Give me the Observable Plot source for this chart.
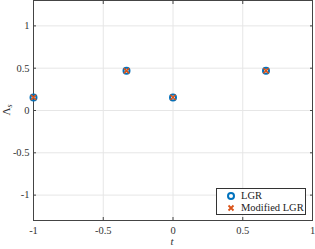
<!DOCTYPE html>
<html><head><meta charset="utf-8">
<script src="https://cdn.jsdelivr.net/npm/d3@7"></script>
<script src="https://cdn.jsdelivr.net/npm/@observablehq/plot@0.6"></script>
<style>
body{margin:0;background:#fff;}
#wrap{position:relative;width:315px;height:249px;font-family:"Liberation Serif","DejaVu Serif",serif;}
#legend{position:absolute;left:216px;top:188px;width:88px;height:25px;border:1px solid #333;background:#fff;font-size:10.5px;color:#222;}
#legend .row{position:absolute;left:0;height:12px;line-height:12px;white-space:nowrap;}
#legend svg{position:absolute;left:9px;top:2px;}
#legend span{position:absolute;left:24px;}
</style></head><body>
<div id="wrap"></div>
<script>
const tNodes = [-1, -1/3, 0, 2/3];
const lgr = [0.155, 0.47, 0.155, 0.47];
const modLgr = [0.155, 0.47, 0.155, 0.47];
const xTicks = [-1, -0.5, 0, 0.5, 1];
const yTicks = [-1, -0.5, 0, 0.5, 1];
const xLabels = ["-1", "-0.5", "0", "0.5", "1"];
const yLabels = ["-1", "-0.5", "0", "0.5", "1"];

const dLgr = tNodes.map((t, i) => ({t, v: lgr[i]}));
const dMod = tNodes.map((t, i) => ({t, v: modLgr[i]}));
const fmtX = d => xLabels[xTicks.indexOf(d)];
const fmtY = d => yLabels[yTicks.indexOf(d)];
const FF = "Liberation Serif";

const chart = Plot.plot({
  width: 315, height: 249,
  marginLeft: 33, marginRight: 3, marginTop: 0, marginBottom: 29,
  style: {fontSize: "10.5px", fontFamily: FF, color: "#333", background: "#fff"},
  x: {domain: [-1, 1]},
  y: {domain: [-1.3, 1.3]},
  marks: [
    Plot.gridX(xTicks, {stroke: "#e6e6e6", strokeOpacity: 1}),
    Plot.gridY(yTicks, {stroke: "#e6e6e6", strokeOpacity: 1}),
    Plot.axisX(xTicks, {anchor: "bottom", tickSize: -3, tickPadding: 9, tickFormat: fmtX, stroke: "#444", label: null, fontFamily: FF, fontVariant: "normal"}),
    Plot.axisX(xTicks, {anchor: "top", tickSize: -3, text: null, stroke: "#444", label: null}),
    Plot.axisY(yTicks, {anchor: "left", tickSize: -3, tickPadding: 7, tickFormat: fmtY, stroke: "#444", label: null, fontFamily: FF, fontVariant: "normal"}),
    Plot.axisY(yTicks, {anchor: "right", tickSize: -3, text: null, stroke: "#444", label: null}),
    Plot.frame({stroke: "#444", strokeWidth: 1}),
    Plot.dot(dLgr, {x: "t", y: "v", r: 3, stroke: "#0072BD", strokeWidth: 2, fill: "none"}),
    Plot.dot(dMod, {x: "t", y: "v", r: 2.5, symbol: "times", stroke: "#D95319", strokeWidth: 1.5})
  ]
});
const wrap = document.getElementById("wrap");
wrap.appendChild(chart);

const sel = d3.select(chart);
sel.append("text").attr("x", 172).attr("y", 245).attr("text-anchor", "middle").attr("font-family", FF)
  .attr("font-style", "italic").attr("font-size", 11).attr("fill", "#333").text("t");
sel.append("text").attr("transform", "translate(10,110) rotate(-90)").attr("text-anchor", "middle").attr("font-family", FF)
  .attr("font-size", 11).attr("fill", "#333").html('Λ<tspan font-style="italic" font-size="8" dy="2">s</tspan>');

const lg = document.createElement("div");
lg.id = "legend";
lg.innerHTML = `
<div class="row" style="top:1px;width:88px"><svg width="12" height="9"><circle cx="5" cy="4" r="3" fill="none" stroke="#0072BD" stroke-width="2"/></svg><span>LGR</span></div>
<div class="row" style="top:13px;width:88px"><svg width="12" height="9"><path d="M2.5,1.5L7.5,6.5M7.5,1.5L2.5,6.5" stroke="#D95319" stroke-width="1.8"/></svg><span>Modified LGR</span></div>`;
wrap.appendChild(lg);
</script>
</body></html>
